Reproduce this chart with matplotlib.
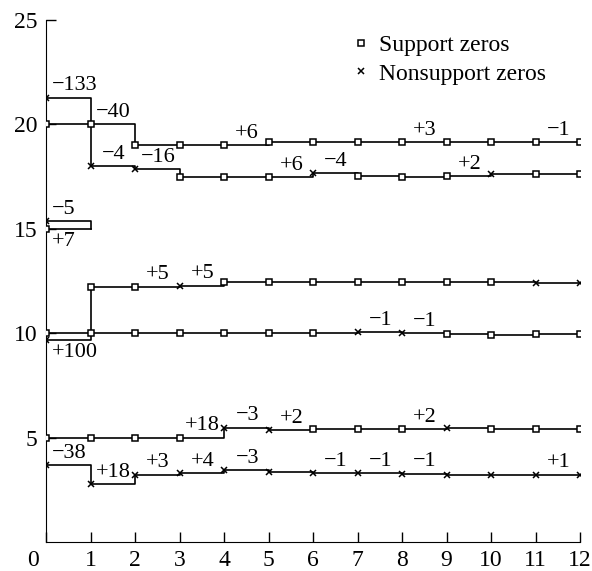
import matplotlib
matplotlib.use('Agg')
import matplotlib.pyplot as plt
import matplotlib.transforms as mtransforms
from matplotlib.lines import Line2D

plt.rcParams['font.family'] = ['Liberation Serif', 'DejaVu Serif']
plt.rcParams['axes.unicode_minus'] = True

steps = list(range(13))

# root positions per iteration; marker code: s = support zero, x = nonsupport zero, . = none
a_vals = [20.0, 20.0, 19.0, 19.0, 19.0, 19.15, 19.15, 19.15, 19.15, 19.15, 19.15, 19.15, 19.15]
a_marks = "sssssssssssss"
b_vals = [21.28, 18.0, 17.85, 17.47, 17.47, 17.47, 17.66, 17.53, 17.47, 17.53, 17.61, 17.61, 17.61]
b_marks = "xxxsssxsssxss"
c_top_vals = [15.37, 15.0]
c_top_marks = "x."
c_bot_vals = [15.0, 15.0]
c_bot_marks = "s."
d_vals = [10.02, 12.2, 12.23, 12.28, 12.45, 12.45, 12.44, 12.44, 12.44, 12.44, 12.44, 12.42, 12.42]
d_marks = "sssxsssssssxx"
e_vals = [9.69, 10.02, 10.02, 10.02, 10.02, 10.02, 10.02, 10.04, 9.99, 9.96, 9.93, 9.95, 9.95]
e_marks = "xssssssxxssss"
f_vals = [5.0, 5.0, 5.0, 5.0, 5.47, 5.36, 5.40, 5.40, 5.40, 5.47, 5.40, 5.40, 5.42]
f_marks = "ssssxxsssxsss"
g_vals = [3.69, 2.78, 3.22, 3.29, 3.43, 3.34, 3.29, 3.29, 3.27, 3.22, 3.22, 3.22, 3.22]
g_marks = "xxxxxxxxxxxxx"

# (segment, text, side) side 1 = above, -1 = below
a_notes = [(1, "\u221240", 1), (4, "+6", 1), (8, "+3", 1), (11, "\u22121", 1)]
b_notes = [(0, "\u2212133", 1), (1, "\u22124", 1), (2, "\u221216", 1), (5, "+6", 1),
           (6, "\u22124", 1), (9, "+2", 1)]
c_top_notes = [(0, "\u22125", 1)]
c_bot_notes = [(0, "+7", -1)]
d_notes = [(2, "+5", 1), (3, "+5", 1)]
e_notes = [(0, "+100", -1), (7, "\u22121", 1), (8, "\u22121", 1)]
f_notes = [(3, "+18", 1), (4, "\u22123", 1), (5, "+2", 1), (8, "+2", 1)]
g_notes = [(0, "\u221238", 1), (1, "+18", 1), (2, "+3", 1), (3, "+4", 1), (4, "\u22123", 1),
           (6, "\u22121", 1), (7, "\u22121", 1), (8, "\u22121", 1), (11, "+1", 1)]

series = [
    (a_vals, a_marks, a_notes),
    (b_vals, b_marks, b_notes),
    (c_top_vals, c_top_marks, c_top_notes),
    (c_bot_vals, c_bot_marks, c_bot_notes),
    (d_vals, d_marks, d_notes),
    (e_vals, e_marks, e_notes),
    (f_vals, f_marks, f_notes),
    (g_vals, g_marks, g_notes),
]

sq_style = dict(marker='s', markersize=4.5, markerfacecolor='white', markeredgecolor='black',
                markeredgewidth=1.1, linestyle='none', zorder=4)
x_style = dict(marker='x', markersize=4.8, markeredgecolor='black', markeredgewidth=1.1,
               linestyle='none', zorder=4)

fig = plt.figure(figsize=(5.92, 5.71), dpi=100)
ax = fig.add_axes([46 / 592, 1 - 542 / 571, 534 / 592, 522 / 571])

for vals, marks, notes in series:
    xs = steps[:len(vals)]
    ax.plot(xs, vals, drawstyle='steps-post', color='black', lw=1.2, zorder=2)
    sx = [x for x, m in zip(xs, marks) if m == 's']
    sy = [v for v, m in zip(vals, marks) if m == 's']
    xx = [x for x, m in zip(xs, marks) if m == 'x']
    xy = [v for v, m in zip(vals, marks) if m == 'x']
    ax.plot(sx, sy, **sq_style)
    ax.plot(xx, xy, **x_style)
    for seg, txt, side in notes:
        dy = 8.5 if side > 0 else -9.5
        if seg == 0:
            # first-segment labels start just right of the axis
            ax.annotate(txt, (seg, vals[seg]), xytext=(4, dy), textcoords='offset points',
                        ha='left', va='center', fontsize=16)
        else:
            ax.annotate(txt, (seg + 0.52, vals[seg]), xytext=(0, dy), textcoords='offset points',
                        ha='center', va='center', fontsize=16)

ax.set_xlim(0, 12)
ax.set_ylim(0, 25)
ax.set_xticks(steps)
ax.set_yticks([5, 10, 15, 20, 25])
ax.spines['top'].set_visible(False)
ax.spines['right'].set_visible(False)
ax.tick_params(direction='in', length=7, width=1, labelsize=17)
ax.tick_params(axis='x', pad=6)
ax.tick_params(axis='y', pad=6)

# the origin label sits left of the axis corner
lbl0 = ax.get_xticklabels()[0]
lbl0.set_transform(lbl0.get_transform() + mtransforms.ScaledTranslation(-0.13, 0, fig.dpi_scale_trans))

handles = [Line2D([], [], **sq_style), Line2D([], [], **x_style)]
ax.legend(handles, ["Support zeros", "Nonsupport zeros"], loc='upper left',
          bbox_to_anchor=(0.553, 0.995), frameon=False, fontsize=17, handlelength=0.7,
          handletextpad=0.4, labelspacing=0.3, borderpad=0)

fig.savefig('out.png', dpi=100)
